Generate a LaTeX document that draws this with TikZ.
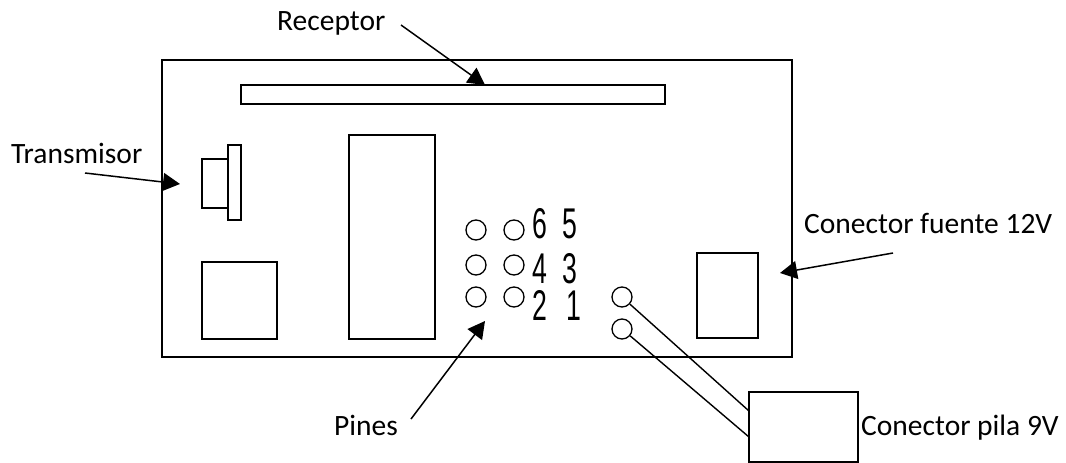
\documentclass[tikz,border=0pt]{standalone}
\usepackage{fontspec}
\setmainfont{Carlito}
\newfontfamily\digitfont{Liberation Sans}
\usetikzlibrary{arrows.meta}
\newcommand{\narrowdigit}[1]{\scalebox{0.62}[1]{#1}}
\tikzset{
  x=1pt,y=-1pt,
  part/.style={draw=black,line width=1.4pt,fill=none},
  pin/.style={circle,draw=black,line width=1.3pt,minimum size=20pt,inner sep=0pt},
  lbl/.style={font=\fontsize{29.5pt}{32pt}\selectfont,inner sep=0pt,anchor=base west,text=black},
  dgt/.style={font=\fontsize{43pt}{45pt}\digitfont,inner sep=0pt,anchor=center,text=black},
  pointer/.style={draw=black,line width=1.5pt,-{Triangle[length=17pt,width=18pt]}},
  wire/.style={draw=black,line width=1.4pt}
}
\begin{document}
\begin{tikzpicture}
\useasboundingbox (0,0) rectangle (1066,463);
\draw[part] (162,60) rectangle (792,357);
\draw[part] (241,85) rectangle (665,104);
\draw[part] (202,159) rectangle (228,208);
\draw[part] (228,145) rectangle (241,220);
\draw[part] (202,262) rectangle (277,339);
\draw[part] (349,135) rectangle (435,339);
\draw[part] (697,253) rectangle (758,338);
\draw[part] (749,392) rectangle (858,462);
\foreach \n/\x/\y in {a/476/230,b/514/230,c/476/265,d/514/265,e/476/297,f/514/297,g/622/297,h/622/329}
  \node[pin] (p\n) at (\x,\y) {};
\node[dgt] (d6) at (540,224) {\narrowdigit{6}};
\node[dgt] (d5) at (570,224) {\narrowdigit{5}};
\node[dgt] (d4) at (540,268.5) {\narrowdigit{4}};
\node[dgt] (d3) at (570,268.5) {\narrowdigit{3}};
\node[dgt] (d2) at (540,305.5) {\narrowdigit{2}};
\node[dgt] (d1) at (574,305.5) {\narrowdigit{1}};
\node[lbl] (lr) at (277,30) {Receptor};
\node[lbl] (lt) at (11,163) {Transmisor};
\node[lbl] (lf) at (804,233) {Conector fuente 12V};
\node[lbl] (lp) at (334,435) {Pines};
\node[lbl] (lb) at (861,435) {Conector pila 9V};
\coordinate (ra) at (401,25); \coordinate (rb) at (485,85);
\coordinate (ta) at (85,173); \coordinate (tb) at (180,184);
\coordinate (fa) at (893,253); \coordinate (fb) at (780,273);
\coordinate (na) at (411,419); \coordinate (nb) at (485,321);
\coordinate (w1) at (749,411); \coordinate (w2) at (749,437);
\draw[pointer] (ra) -- (rb);
\draw[pointer] (ta) -- (tb);
\draw[pointer] (fa) -- (fb);
\draw[pointer] (na) -- (nb);
\draw[wire] (pg.-42) -- (w1);
\draw[wire] (ph.-40) -- (w2);
\end{tikzpicture}
\end{document}
